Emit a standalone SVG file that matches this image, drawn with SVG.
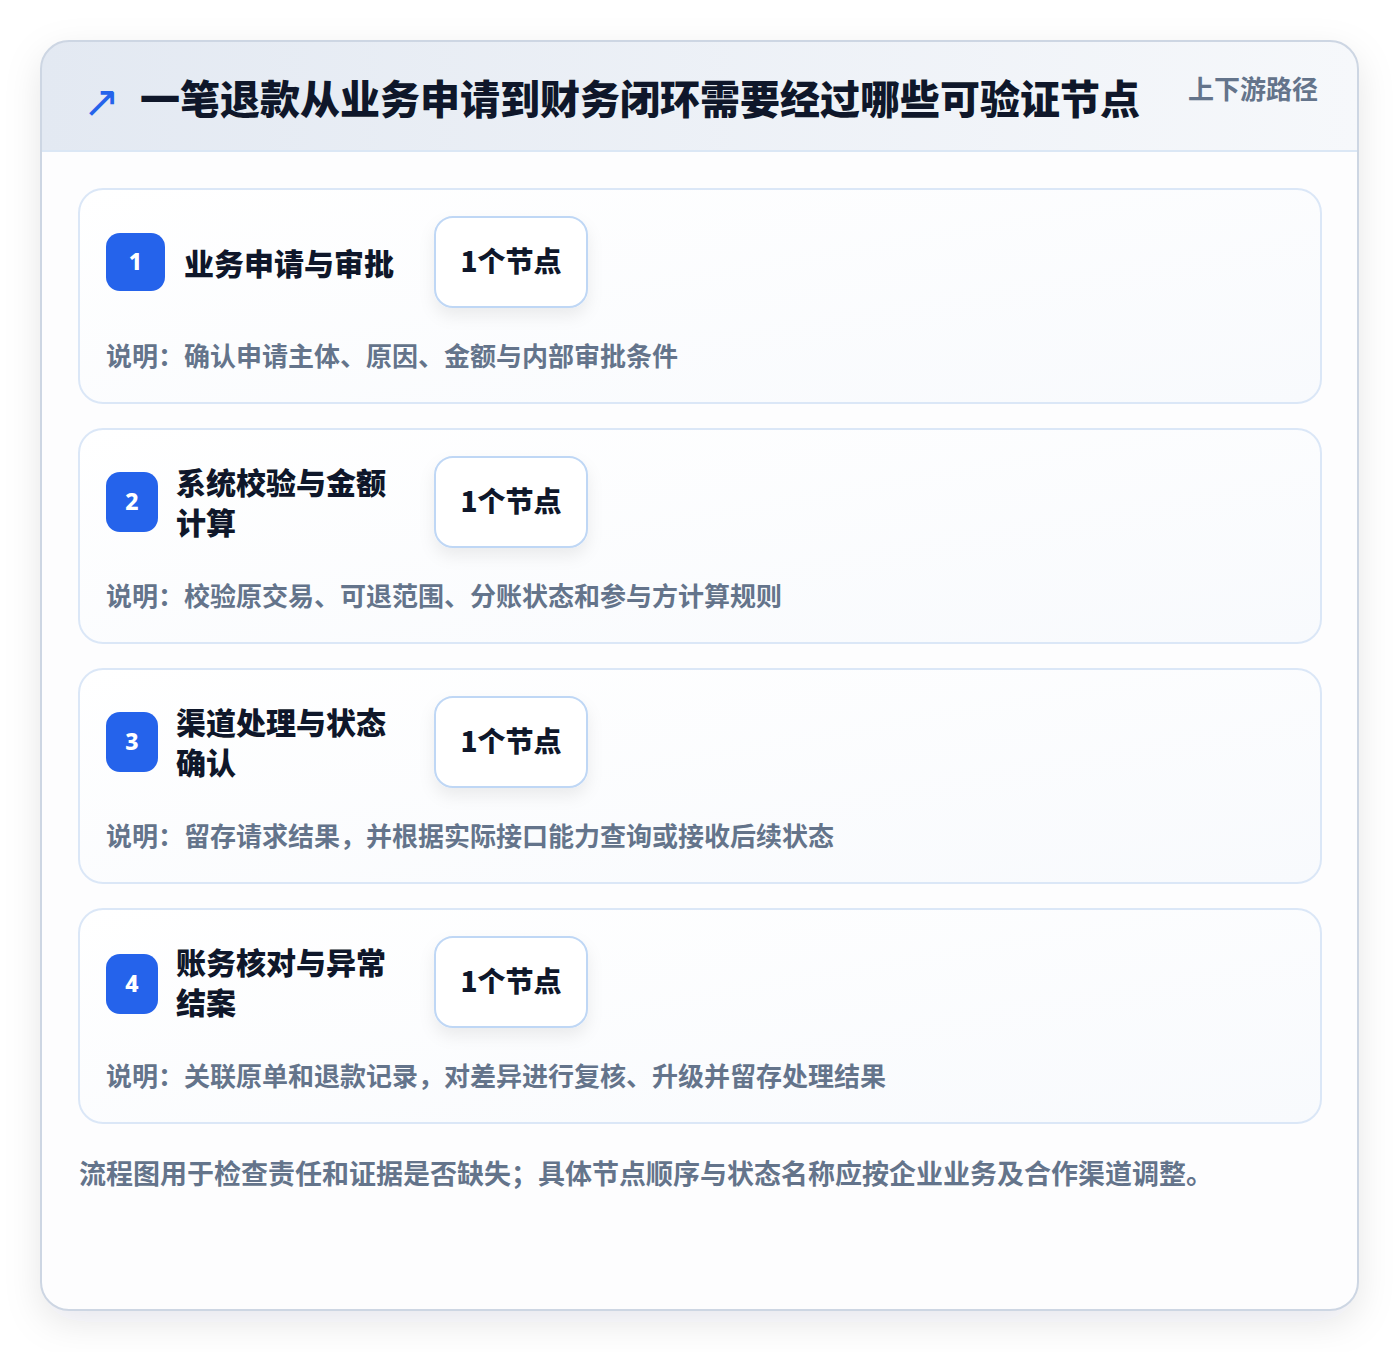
<svg xmlns="http://www.w3.org/2000/svg" width="1400" height="1352" viewBox="0 0 1400 1352">
<defs>
<linearGradient id="hdr" x1="0" y1="0" x2="1" y2="0">
<stop offset="0" stop-color="#e3e9f2"/>
<stop offset="1" stop-color="#f6f8fb"/>
</linearGradient>
<linearGradient id="cardg" x1="0" y1="0" x2="1" y2="1">
<stop offset="0" stop-color="#ffffff"/>
<stop offset="1" stop-color="#f8fafd"/>
</linearGradient>
<clipPath id="outerClip"><rect x="41" y="41" width="1317" height="1269" rx="28"/></clipPath>
<filter id="outerShadow" x="-10%" y="-10%" width="120%" height="120%">
<feDropShadow dx="0" dy="12" stdDeviation="18" flood-color="#0f172a" flood-opacity="0.10"/>
</filter>
<filter id="pillShadow" x="-30%" y="-30%" width="160%" height="180%">
<feDropShadow dx="0" dy="8" stdDeviation="8" flood-color="#0f172a" flood-opacity="0.07"/>
</filter>
<style>
.card{fill:url(#cardg);stroke:#dbe7f7;stroke-width:2}
.badge{fill:#2563eb}
.num{font-family:"Noto Sans","Liberation Sans",sans-serif;font-weight:800;font-size:23px;fill:#ffffff;text-anchor:middle}
.ttl{font-family:"Noto Sans CJK SC",sans-serif;font-weight:900;font-size:30px;fill:#0f172a}
.pill{fill:#ffffff;stroke:#bfd7f5;stroke-width:2}
.pilltxt{font-family:"Noto Sans CJK SC",sans-serif;font-weight:900;font-size:28px;fill:#0f172a;text-anchor:middle}
.desc{font-family:"Noto Sans CJK SC",sans-serif;font-weight:700;font-size:26px;fill:#64748b}
</style>
</defs>
<rect x="0" y="0" width="1400" height="1352" fill="#ffffff"/>
<g id="frame">
<rect x="41" y="41" width="1317" height="1269" rx="28" fill="#fdfdfe" filter="url(#outerShadow)"/>
<rect x="41" y="41" width="1317" height="110" fill="url(#hdr)" clip-path="url(#outerClip)"/>
<line x1="41" y1="151" x2="1358" y2="151" stroke="#dbe7f5" stroke-width="2"/>
<rect x="41" y="41" width="1317" height="1269" rx="28" fill="none" stroke="#cdd6e3" stroke-width="2"/>
</g>
<g id="header">
<text x="83" y="117" font-family="DejaVu Sans,sans-serif" font-size="44" fill="#2563eb">↗</text>
<text x="140" y="114" font-family="Noto Sans CJK SC,sans-serif" font-weight="900" font-size="40" fill="#0f172a">一笔退款从业务申请到财务闭环需要经过哪些可验证节点</text>
<text x="1188" y="99" font-family="Noto Sans CJK SC,sans-serif" font-weight="700" font-size="26" fill="#64748b">上下游路径</text>
</g>
<g id="connectors"></g>
<g id="node1">
<rect class="card" x="79" y="189" width="1242" height="214" rx="24"/>
<rect class="badge" x="106" y="233" width="59" height="58" rx="14"/>
<text class="num" x="135.5" y="270">1</text>
<text class="ttl" x="184" y="275">业务申请与审批</text>
<rect class="pill" x="435" y="217" width="152" height="90" rx="18" filter="url(#pillShadow)"/>
<text class="pilltxt" x="511" y="272">1个节点</text>
<text class="desc" x="106" y="366">说明：确认申请主体、原因、金额与内部审批条件</text>
</g>
<g id="node2">
<rect class="card" x="79" y="429" width="1242" height="214" rx="24"/>
<rect class="badge" x="106" y="472" width="52" height="60" rx="14"/>
<text class="num" x="132" y="510">2</text>
<text class="ttl" x="176" y="494">系统校验与金额</text>
<text class="ttl" x="176" y="534">计算</text>
<rect class="pill" x="435" y="457" width="152" height="90" rx="18" filter="url(#pillShadow)"/>
<text class="pilltxt" x="511" y="512">1个节点</text>
<text class="desc" x="106" y="606">说明：校验原交易、可退范围、分账状态和参与方计算规则</text>
</g>
<g id="node3">
<rect class="card" x="79" y="669" width="1242" height="214" rx="24"/>
<rect class="badge" x="106" y="712" width="52" height="60" rx="14"/>
<text class="num" x="132" y="750">3</text>
<text class="ttl" x="176" y="734">渠道处理与状态</text>
<text class="ttl" x="176" y="774">确认</text>
<rect class="pill" x="435" y="697" width="152" height="90" rx="18" filter="url(#pillShadow)"/>
<text class="pilltxt" x="511" y="752">1个节点</text>
<text class="desc" x="106" y="846">说明：留存请求结果，并根据实际接口能力查询或接收后续状态</text>
</g>
<g id="node4">
<rect class="card" x="79" y="909" width="1242" height="214" rx="24"/>
<rect class="badge" x="106" y="954" width="52" height="60" rx="14"/>
<text class="num" x="132" y="992">4</text>
<text class="ttl" x="176" y="974">账务核对与异常</text>
<text class="ttl" x="176" y="1014">结案</text>
<rect class="pill" x="435" y="937" width="152" height="90" rx="18" filter="url(#pillShadow)"/>
<text class="pilltxt" x="511" y="992">1个节点</text>
<text class="desc" x="106" y="1086">说明：关联原单和退款记录，对差异进行复核、升级并留存处理结果</text>
</g>
<g id="footer">
<text x="79" y="1184" font-family="Noto Sans CJK SC,sans-serif" font-weight="700" font-size="27" fill="#64748b">流程图用于检查责任和证据是否缺失；具体节点顺序与状态名称应按企业业务及合作渠道调整。</text>
</g>
</svg>
